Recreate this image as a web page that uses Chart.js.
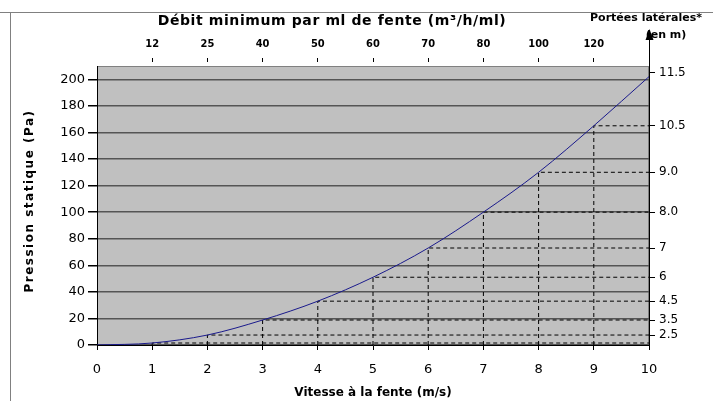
<!DOCTYPE html>
<html>
<head>
<meta charset="utf-8">
<script src="https://cdn.jsdelivr.net/npm/chart.js@4/dist/chart.umd.min.js"></script>
<style>
  html, body { margin: 0; padding: 0; background: #fff; }
  #wrap { width: 713px; height: 401px; }
</style>
</head>
<body>
<div id="wrap"><canvas id="chart" width="713" height="401"></canvas></div>
<script>
// speed at the slot (m/s) and static pressure (Pa)
const speeds = [0, 1, 2, 3, 4, 5, 6, 7, 8, 9, 10];
const pressures = [0, 1.5, 7.5, 18.8, 33, 51, 73, 100, 130, 165, 202];

// top axis: minimum flow per ml of slot, at speeds 1..9
const flowSpeeds = [1, 2, 3, 4, 5, 6, 7, 8, 9];
const flowLabels = ['12', '25', '40', '50', '60', '70', '80', '100', '120'];

// right axis: lateral throw (m), placed at pressure levels
const throwPressures = [7.5, 18.8, 33, 51, 73, 100, 130, 165, 205];
const throwLabels = ['2.5', '3.5', '4.5', '6', '7', '8.0', '9.0', '10.5', '11.5'];

const FONT = "'DejaVu Sans', Verdana, sans-serif";
const NARROW = "'DejaVu Sans Condensed', 'DejaVu Sans', sans-serif";

const curve = speeds.map((s, i) => ({ x: s, y: pressures[i] }));

// dashed guides: down to the x axis and across to the right axis
const guides = flowSpeeds.map(s => {
  const p = pressures[speeds.indexOf(s)];
  return {
    data: [{ x: s, y: 0 }, { x: s, y: p }, { x: speeds[speeds.length - 1], y: p }],
    showLine: true,
    borderColor: '#000',
    borderWidth: 1,
    borderDash: [4, 3],
    pointRadius: 0,
    tension: 0,
    fill: false
  };
});

const decor = {
  id: 'decor',
  beforeDraw(chart) {
    const { ctx, chartArea: a } = chart;
    ctx.save();
    ctx.fillStyle = '#fff';
    ctx.fillRect(0, 0, chart.width, chart.height);
    ctx.strokeStyle = '#808080';
    ctx.lineWidth = 1;
    ctx.beginPath();
    ctx.moveTo(0, 12.5); ctx.lineTo(chart.width, 12.5);
    ctx.moveTo(10.5, 12); ctx.lineTo(10.5, chart.height);
    ctx.stroke();
    ctx.fillStyle = '#c0c0c0';
    ctx.fillRect(a.left, a.top, a.right - a.left, a.bottom - a.top);
    ctx.strokeRect(a.left + 0.5, a.top + 0.5, a.right - a.left - 1, a.bottom - a.top - 1);
    ctx.restore();
  },
  afterDraw(chart) {
    const { ctx, chartArea: a } = chart;
    ctx.save();
    // arrow on the right axis
    const ax = Math.round(chart.scales.y2.left) + 0.5;
    ctx.strokeStyle = '#000';
    ctx.lineWidth = 1;
    ctx.beginPath();
    ctx.moveTo(ax, a.top); ctx.lineTo(ax, 36);
    ctx.stroke();
    ctx.fillStyle = '#000';
    ctx.beginPath();
    ctx.moveTo(ax, 29); ctx.lineTo(ax - 4, 40); ctx.lineTo(ax + 4, 40); ctx.closePath();
    ctx.fill();

    ctx.fillStyle = '#000';
    ctx.textBaseline = 'middle';
    ctx.textAlign = 'center';
    ctx.font = 'bold 14px ' + FONT;
    ctx.letterSpacing = '0.6px';
    ctx.fillText('Débit minimum par ml de fente (m³/h/ml)', 332, 21);
    ctx.letterSpacing = '0px';
    ctx.font = 'bold 11px ' + FONT;
    ctx.fillText('Portées latérales*', 646, 18);
    ctx.fillText('(en m)', 666, 35);

    ctx.translate(30, 201);
    ctx.rotate(-Math.PI / 2);
    ctx.font = 'bold 12px ' + FONT;
    ctx.letterSpacing = '1.5px';
    ctx.fillText('Pression statique (Pa)', 0, 0);
    ctx.restore();
  }
};

new Chart(document.getElementById('chart'), {
  type: 'scatter',
  data: {
    datasets: [{
      data: curve,
      showLine: true,
      borderColor: '#1a1a8c',
      borderWidth: 1,
      pointRadius: 0,
      tension: 0.4,
      cubicInterpolationMode: 'monotone',
      fill: false
    }, ...guides]
  },
  options: {
    responsive: false,
    animation: false,
    devicePixelRatio: 1,
    layout: { padding: 0 },
    plugins: {
      legend: { display: false },
      tooltip: { enabled: false }
    },
    scales: {
      x: {
        type: 'linear',
        position: 'bottom',
        min: 0,
        max: 10,
        ticks: { stepSize: 1, color: '#000', font: { family: FONT, size: 13 }, padding: 12, maxRotation: 0 },
        grid: { drawOnChartArea: false, tickLength: 5, tickColor: '#000' },
        border: { color: '#000' },
        title: {
          display: true,
          text: 'Vitesse à la fente (m/s)',
          color: '#000',
          font: { family: FONT, size: 12, weight: 'bold' },
          padding: { top: 0, bottom: 1 }
        },
        afterFit(s) { s.height = 56; }
      },
      x2: {
        type: 'linear',
        position: 'top',
        min: 0,
        max: 10,
        afterBuildTicks(s) { s.ticks = flowSpeeds.map(v => ({ value: v })); },
        ticks: {
          autoSkip: false,
          maxRotation: 0,
          color: '#000',
          font: { family: NARROW, size: 11, weight: 'bold' },
          padding: 7,
          callback: (v, i) => flowLabels[i]
        },
        grid: { drawOnChartArea: false, tickLength: 8, tickColor: '#000', tickBorderDash: [4, 20] },
        border: { display: false },
        afterFit(s) { s.height = 66; }
      },
      y: {
        position: 'left',
        min: 0,
        max: 210,
        ticks: { stepSize: 20, includeBounds: false, color: '#000', font: { family: FONT, size: 13 }, padding: 3 },
        grid: { color: '#555', lineWidth: 1.5, tickLength: 9, tickColor: '#000' },
        border: { color: '#000' },
        afterFit(s) { s.width = 97; }
      },
      y2: {
        position: 'right',
        min: 0,
        max: 210,
        afterBuildTicks(s) { s.ticks = throwPressures.map(v => ({ value: v })); },
        ticks: {
          autoSkip: false,
          color: '#000',
          font: { family: FONT, size: 12 },
          padding: 4,
          callback: (v, i) => throwLabels[i]
        },
        grid: { drawOnChartArea: false, tickLength: 6, tickColor: '#000' },
        border: { color: '#000' },
        afterFit(s) { s.width = 64; }
      }
    }
  },
  plugins: [decor]
});
</script>
</body>
</html>
